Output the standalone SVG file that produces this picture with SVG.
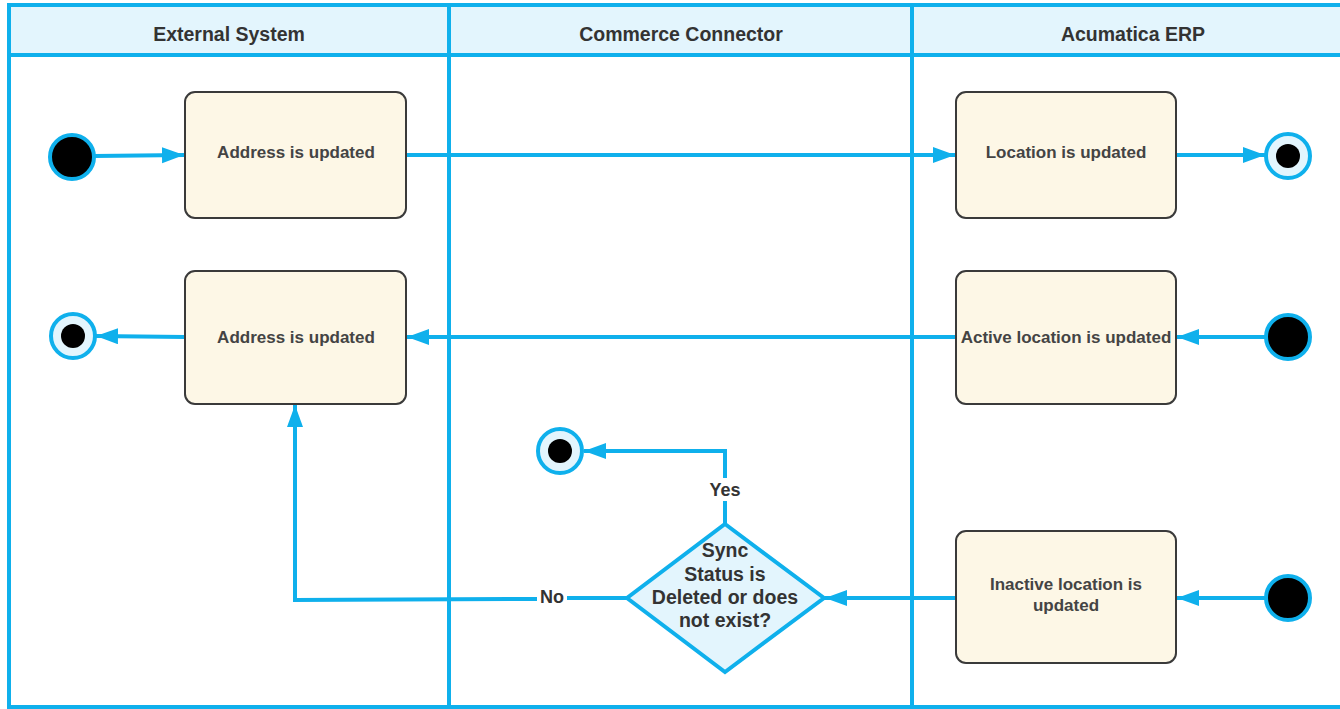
<svg xmlns="http://www.w3.org/2000/svg" width="1340" height="709" viewBox="0 0 1340 709">
<defs>
<style>
.lane{fill:#ffffff;stroke:#0fb0ec;stroke-width:4}
.hdr{fill:#e3f5fd;stroke:#0fb0ec;stroke-width:4}
.ht{font-family:"Liberation Sans",Arial,sans-serif;font-weight:bold;font-size:19.5px;fill:#333333;text-anchor:middle}
.box{fill:#fdf7e6;stroke:#3a3a3a;stroke-width:2}
.bt{font-family:"Liberation Sans",Arial,sans-serif;font-weight:bold;font-size:17px;fill:#444444;text-anchor:middle}
.dt{font-family:"Liberation Sans",Arial,sans-serif;font-weight:bold;font-size:19.5px;fill:#333333;text-anchor:middle}
.lt{font-family:"Liberation Sans",Arial,sans-serif;font-weight:bold;font-size:18px;fill:#333333;text-anchor:middle}
.edge{fill:none;stroke:#0fb0ec;stroke-width:4}
.start{fill:#000000;stroke:#0fb0ec;stroke-width:4}
.endo{fill:#e3f5fd;stroke:#0fb0ec;stroke-width:4}
.endi{fill:#000000}
.dia{fill:#e3f5fd;stroke:#0fb0ec;stroke-width:4}
</style>
<marker id="arr" markerUnits="userSpaceOnUse" markerWidth="24" markerHeight="18" refX="22" refY="8" orient="auto">
<path d="M0,0 L22,8 L0,16 Z" fill="#0fb0ec"/>
</marker>
</defs>
<g id="lanes">
<rect class="lane" x="9" y="5" width="1345" height="702"/>
<rect class="hdr" x="9" y="5" width="1345" height="50"/>
<line class="edge" x1="449" y1="5" x2="449" y2="707"/>
<line class="edge" x1="912" y1="5" x2="912" y2="707"/>
<text class="ht" x="229" y="41">External System</text>
<text class="ht" x="681" y="41">Commerce Connector</text>
<text class="ht" x="1133" y="41">Acumatica ERP</text>
</g>
<g id="connectors">
<path class="edge" d="M94,156 L184,155" marker-end="url(#arr)"/>
<path class="edge" d="M406,155 L955,155" marker-end="url(#arr)"/>
<path class="edge" d="M1176,155 L1265,155" marker-end="url(#arr)"/>
<path class="edge" d="M956,337 L407,337" marker-end="url(#arr)"/>
<path class="edge" d="M185,337 L96,336" marker-end="url(#arr)"/>
<path class="edge" d="M1265,337 L1177,337" marker-end="url(#arr)"/>
<path class="edge" d="M1265,598 L1177,598" marker-end="url(#arr)"/>
<path class="edge" d="M956,598 L825,598" marker-end="url(#arr)"/>
<path class="edge" d="M725,524 L725,501 M725,478 L725,451 L584,451" marker-end="url(#arr)"/>
<path class="edge" d="M627,598 L567,598 M537,599 L295,600 L295,405" marker-end="url(#arr)"/>
<text class="lt" x="725" y="496">Yes</text>
<text class="lt" x="552" y="603">No</text>
</g>
<g id="start1"><circle class="start" cx="72" cy="157" r="22"/></g>
<g id="box1"><rect class="box" x="185" y="92" width="221" height="126" rx="10"/><text class="bt" x="296" y="158">Address is updated</text></g>
<g id="box2"><rect class="box" x="956" y="92" width="220" height="126" rx="10"/><text class="bt" x="1066" y="158">Location is updated</text></g>
<g id="end1"><circle class="endo" cx="1288" cy="156" r="22"/><circle class="endi" cx="1288" cy="156" r="12"/></g>
<g id="box3"><rect class="box" x="185" y="271" width="221" height="133" rx="10"/><text class="bt" x="296" y="343">Address is updated</text></g>
<g id="end2"><circle class="endo" cx="73" cy="336" r="22"/><circle class="endi" cx="73" cy="336" r="12"/></g>
<g id="box4"><rect class="box" x="956" y="271" width="220" height="133" rx="10"/><text class="bt" x="1066" y="343">Active location is updated</text></g>
<g id="start2"><circle class="start" cx="1288" cy="337" r="22"/></g>
<g id="box5"><rect class="box" x="956" y="531" width="220" height="132" rx="10"/><text class="bt" x="1066" y="590">Inactive location is</text><text class="bt" x="1066" y="611">updated</text></g>
<g id="start3"><circle class="start" cx="1288" cy="598" r="22"/></g>
<g id="end3"><circle class="endo" cx="560" cy="451" r="22"/><circle class="endi" cx="560" cy="451" r="12"/></g>
<g id="decision"><path class="dia" d="M725,524 L824,598 L725,672 L627,598 Z"/>
<text class="dt" x="725" y="557">Sync</text>
<text class="dt" x="725" y="581">Status is</text>
<text class="dt" x="725" y="604">Deleted or does</text>
<text class="dt" x="725" y="627">not exist?</text>
</g>
</svg>
